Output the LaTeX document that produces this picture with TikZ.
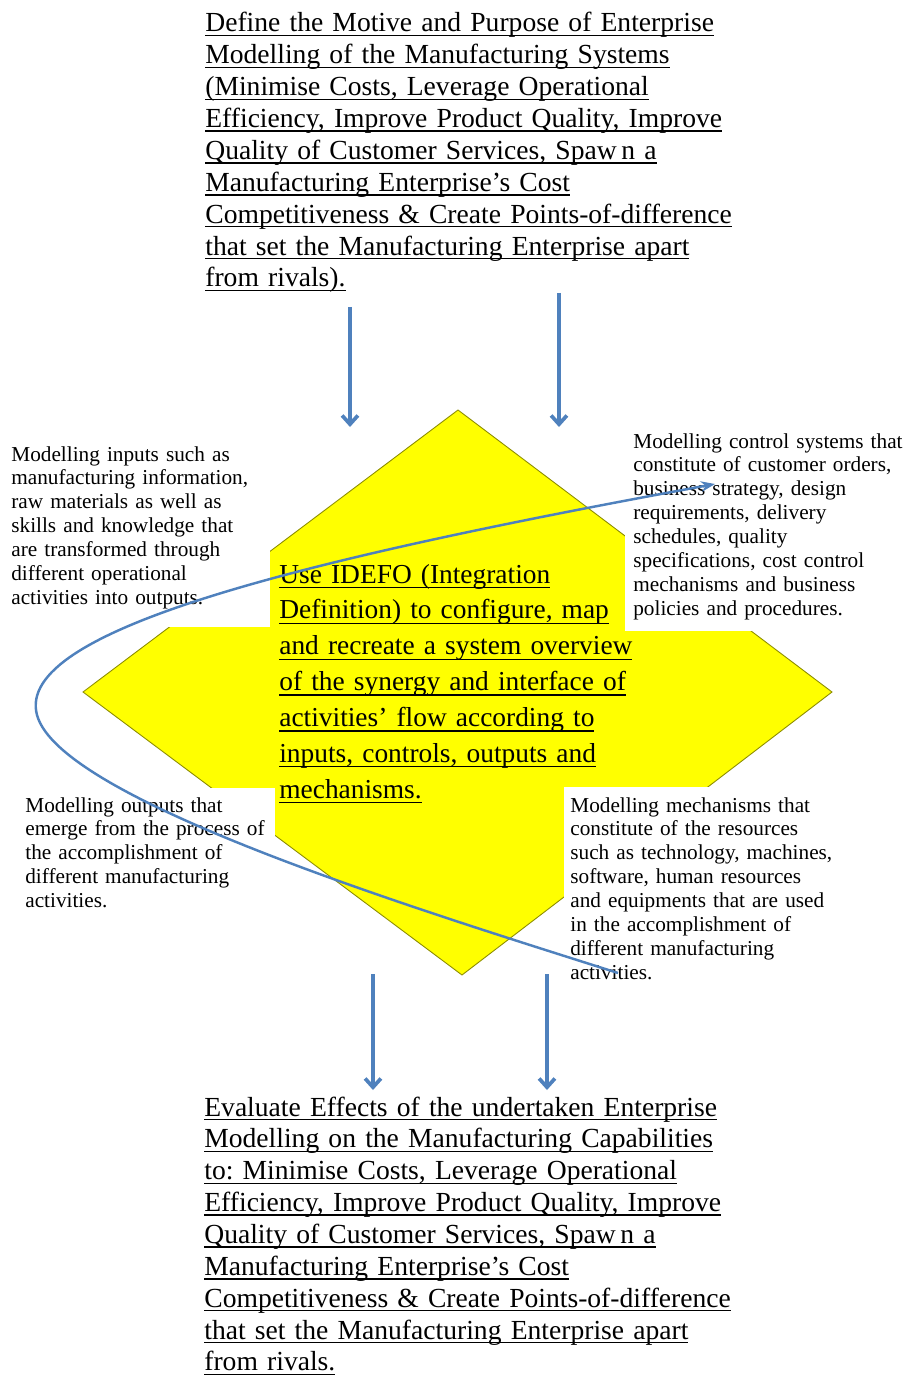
\documentclass[tikz,border=0pt]{standalone}
\usepackage{fontspec}
\setmainfont{Liberation Serif}
\usetikzlibrary{arrows.meta}
\definecolor{flowblue}{RGB}{79,129,189}
\definecolor{idefyellow}{RGB}{255,255,0}
\definecolor{idefedge}{RGB}{140,140,0}
\frenchspacing
% underline at a fixed depth below the baseline
\newsavebox{\ulbox}
\newlength{\uldrop}
\setlength{\uldrop}{2.4pt}
\newcommand{\uln}[1]{\leavevmode\sbox{\ulbox}{#1}\rlap{\rule[-\uldrop]{\wd\ulbox}{0.8pt}}\usebox{\ulbox}}
\tikzset{
  goal/.style={anchor=base west, inner sep=0pt, text width=12cm, align=left,
    font=\fontsize{15.7}{18.14}\selectfont\setlength{\uldrop}{2.4pt}},
  core/.style={anchor=base west, inner sep=0pt, text width=9cm, align=left,
    font=\fontsize{15.6}{20.4}\selectfont\setlength{\uldrop}{3pt}},
  note/.style={anchor=base west, inner sep=0pt, text width=6cm, align=left,
    font=\fontsize{12.1}{13.6}\selectfont},
  mask/.style={fill=white},
  flow/.style={draw=flowblue, line width=2.1pt, -{Straight Barb[length=5pt,width=9pt]}},
  loop/.style={draw=flowblue, line width=1.4pt, -{Stealth[length=8pt,width=6pt]}}
}
\begin{document}
\begin{tikzpicture}[x=0.02cm, y=-0.02cm]
\useasboundingbox (0,0) rectangle (907,1378);

% diamond and the white boxes behind the four notes
\draw[fill=idefyellow, draw=idefedge, line width=0.5pt] (458,410) -- (832,692) -- (462,975) -- (83,692) -- cycle;
\fill[mask] (0,436) rectangle (270,627);
\fill[mask] (625,430) rectangle (907,631);
\fill[mask] (15,788) rectangle (275,915);
\fill[mask] (564,787) rectangle (907,990);

\node[goal] (motive) at (205,32) {%
\uln{Define the Motive and Purpose of Enterprise}\\
\uln{Modelling of the Manufacturing Systems}\\
\uln{(Minimise Costs, Leverage Operational}\\
\uln{Efficiency, Improve Product Quality, Improve}\\
\uln{Quality of Customer Services, Spaw\,n a}\\
\uln{Manufacturing Enterprise's Cost}\\
\uln{Competitiveness \& Create Points-of-difference}\\
\uln{that set the Manufacturing Enterprise apart}\\
\uln{from rivals).}};

\node[core] (idef) at (279,583) {%
\uln{Use IDEFO (Integration}\\
\uln{Definition) to configure, map}\\
\uln{and recreate a system overview}\\
\uln{of the synergy and interface of}\\
\uln{activities' flow according to}\\
\uln{inputs, controls, outputs and}\\
\uln{mechanisms.}};

\node[note] (inputs) at (11,461) {%
Modelling inputs such as\\
manufacturing information,\\
raw materials as well as\\
skills and knowledge that\\
are transformed through\\
different operational\\
activities into outputs.};

\node[note] (controls) at (633,448) {%
Modelling control systems that\\
constitute of customer orders,\\
business strategy, design\\
requirements, delivery\\
schedules, quality\\
specifications, cost control\\
mechanisms and business\\
policies and procedures.};

\node[note] (outputs) at (25,812) {%
Modelling outputs that\\
emerge from the process of\\
the accomplishment of\\
different manufacturing\\
activities.};

\node[note] (mechanisms) at (570,812) {%
Modelling mechanisms that\\
constitute of the resources\\
such as technology, machines,\\
software, human resources\\
and equipments that are used\\
in the accomplishment of\\
different manufacturing\\
activities.};

\node[goal] (evaluate) at (204,1116) {%
\uln{Evaluate Effects of the undertaken Enterprise}\\
\uln{Modelling on the Manufacturing Capabilities}\\
\uln{to: Minimise Costs, Leverage Operational}\\
\uln{Efficiency, Improve Product Quality, Improve}\\
\uln{Quality of Customer Services, Spaw\,n a}\\
\uln{Manufacturing Enterprise's Cost}\\
\uln{Competitiveness \& Create Points-of-difference}\\
\uln{that set the Manufacturing Enterprise apart}\\
\uln{from rivals.}};

% arrows into and out of the diamond
\coordinate (in1) at (350,307);
\coordinate (in1end) at (350,427);
\coordinate (in2) at (559,293);
\coordinate (in2end) at (559,427);
\coordinate (out1) at (373,974);
\coordinate (out1end) at (373,1090);
\coordinate (out2) at (547,974);
\coordinate (out2end) at (547,1090);
\draw[flow] (in1) -- (in1end);
\draw[flow] (in2) -- (in2end);
\draw[flow] (out1) -- (out1end);
\draw[flow] (out2) -- (out2end);

\coordinate (loopstart) at (618,973);
\coordinate (loopleft) at (37,715);
\coordinate (loopend) at (715,484);
\draw[loop] (loopstart) .. controls (420,910) and (60,800) .. (loopleft)
  .. controls (14,630) and (300,560) .. (loopend);
\end{tikzpicture}
\end{document}
